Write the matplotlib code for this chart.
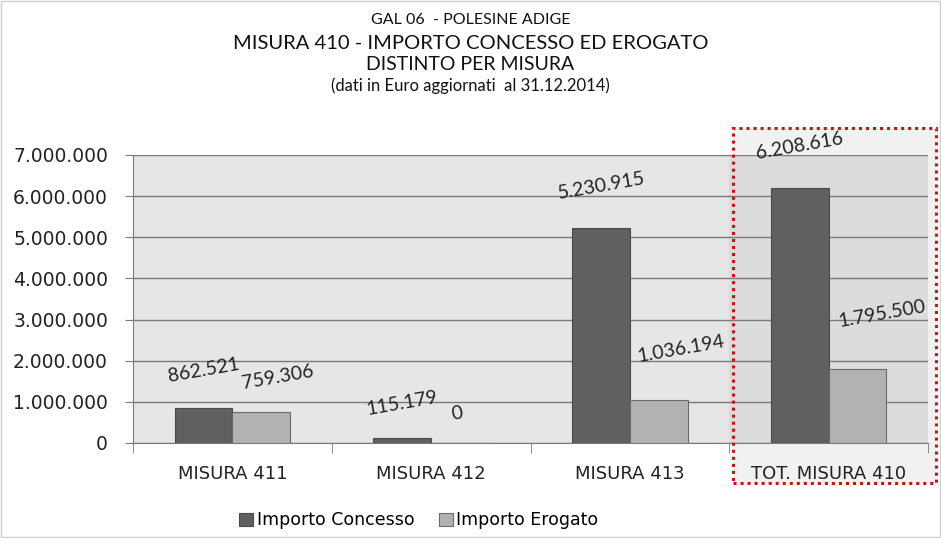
import matplotlib.pyplot as plt
from matplotlib.patches import Rectangle
import numpy as np

categories = ['MISURA 411', 'MISURA 412', 'MISURA 413', 'TOT. MISURA 410']
concesso = [862521, 115179, 5230915, 6208616]
erogato = [759306, 0, 1036194, 1795500]
series_names = ['Importo Concesso', 'Importo Erogato']
yticks = [0, 1000000, 2000000, 3000000, 4000000, 5000000, 6000000, 7000000]

# label offsets (points) - the labels in the original were dragged by hand
off_concesso = [(0, 27), (0, 25), (0, 30), (0, 30)]
off_erogato = [(12, 25), (-2, 21), (16, 37), (18, 40)]


def fmt_it(v):
    # italian thousands separator
    return f'{v:,.0f}'.replace(',', '.')


fig = plt.figure(figsize=(9.41, 5.38), dpi=100)

box = (0.779, 0.102, 0.216, 0.660)
# light fill of the highlight box, behind everything
fig.patches.append(Rectangle(box[:2], box[2], box[3], transform=fig.transFigure,
                             facecolor='#f1f1f1', edgecolor='none', zorder=-5))

ax = fig.add_axes([0.1413, 0.1766, 0.845, 0.5353])
ax.set_facecolor('#e6e6e6')

x = np.arange(len(categories))
w = 0.29
b1 = ax.bar(x - w / 2, concesso, w, color='#606060', edgecolor='#4a4a4a', linewidth=0.8,
            label=series_names[0], zorder=3)
b2 = ax.bar(x + w / 2, erogato, w, color='#b2b2b2', edgecolor='#6a6a6a', linewidth=0.8,
            label=series_names[1], zorder=3)

# slightly darker background behind the total group
ax.axvspan(2.5, 3.5, color='#dcdcdc', zorder=0)

for xi, v, off in zip(x - w / 2, concesso, off_concesso):
    ax.annotate(fmt_it(v), (xi, v), xytext=off, textcoords='offset points',
                ha='center', va='center', rotation=10, fontsize=14,
                family='Lato', color='#222222', zorder=5, annotation_clip=False)
for xi, v, off in zip(x + w / 2, erogato, off_erogato):
    ax.annotate(fmt_it(v), (xi, v), xytext=off, textcoords='offset points',
                ha='center', va='center', rotation=10, fontsize=14,
                family='Lato', color='#222222', zorder=5, annotation_clip=False)

ax.set_xlim(-0.5, 3.5)
ax.set_ylim(0, 7000000)
ax.set_yticks(yticks)
ax.set_yticklabels([fmt_it(t) for t in yticks], fontsize=13.5, color='#222222')
ax.yaxis.grid(True, color='#7a7a7a', linewidth=1, zorder=1)
ax.set_axisbelow(True)

ax.set_xticks(x)
ax.set_xticklabels(categories, fontsize=13, color='#222222')
ax.tick_params(axis='x', length=0, pad=16)
ax.set_xticks(np.arange(-0.5, 4, 1), minor=True)
ax.tick_params(axis='x', which='minor', length=7, color='#7a7a7a', direction='out')
ax.tick_params(axis='y', length=6, color='#7a7a7a', pad=12)

for s in ['top', 'right']:
    ax.spines[s].set_visible(False)
ax.spines['left'].set_color('#7a7a7a')
ax.spines['bottom'].set_color('#7a7a7a')

title_font = 'Lato'
fig.text(0.5, 0.962, 'GAL 06  - POLESINE ADIGE', ha='center', va='center',
         fontsize=11.5, family=title_font, color='#111111')
fig.text(0.5, 0.920, 'MISURA 410 - IMPORTO CONCESSO ED EROGATO', ha='center', va='center',
         fontsize=14.5, family=title_font, color='#111111')
fig.text(0.5, 0.880, 'DISTINTO PER MISURA', ha='center', va='center',
         fontsize=14, family=title_font, color='#111111')
fig.text(0.5, 0.840, '(dati in Euro aggiornati  al 31.12.2014)', ha='center', va='center',
         fontsize=12, family=title_font, color='#111111')

fig.legend(handles=[b1, b2], labels=series_names, loc='center', bbox_to_anchor=(0.445, 0.033),
           ncol=2, frameon=False, fontsize=12.5, handlelength=0.8, handleheight=0.8,
           handletextpad=0.2, columnspacing=1.4)

# red dotted highlight box around the total
fig.patches.append(Rectangle(box[:2], box[2], box[3], transform=fig.transFigure,
                             fill=False, edgecolor='#cc1111', linestyle=(0, (1, 1.3)),
                             linewidth=2.2, zorder=10))
# thin outer frame
fig.patches.append(Rectangle((0.001, 0.001), 0.998, 0.998, transform=fig.transFigure,
                             fill=False, edgecolor='#cfcfcf', linewidth=1))

fig.savefig('out.png', dpi=100)
